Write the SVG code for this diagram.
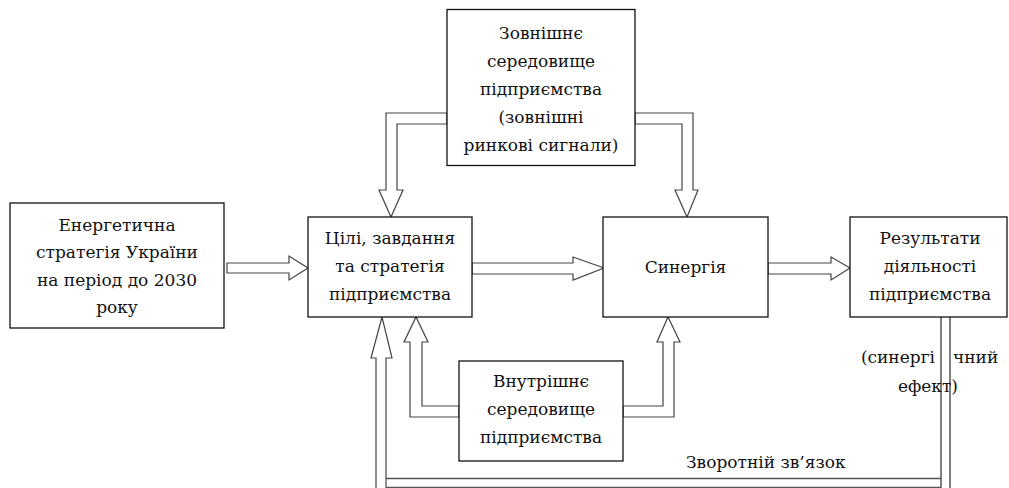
<svg xmlns="http://www.w3.org/2000/svg" width="1009" height="488" viewBox="0 0 1009 488">
<style>
.box{fill:#fff;stroke:#111;stroke-width:1.3}
.arr{fill:#fff;stroke:#444;stroke-width:1.2;stroke-linejoin:miter}
.ln{fill:none;stroke:#555;stroke-width:1.5}
text{font-family:"DejaVu Serif","Liberation Serif",serif;font-size:17px;fill:#111}
.c{text-anchor:middle}
.e{text-anchor:end}
</style>
<rect width="1009" height="488" fill="#fff"/>
<g id="connectors">
<polygon class="arr" points="227,263 289,263 289,256 308,268 289,280 289,273 227,273"/>
<polygon class="arr" points="472,263 573,263 573,257 604,268 573,280 573,274 472,274"/>
<polygon class="arr" points="768,263 831,263 831,257 850,268 831,280 831,274 768,274"/>
<polygon class="arr" points="447,113 386,113 386,190 379,190 391,217 403,190 397,190 397,124 447,124"/>
<polygon class="arr" points="635,113 693,113 693,190 698,190 687,217 675,190 682,190 682,124 635,124"/>
<polygon class="arr" points="459,406 422,406 422,342 428,342 416,317 404,342 410,342 410,417 459,417"/>
<polygon class="arr" points="623,406 663,406 663,342 657,342 668,317 680,342 674,342 674,417 623,417"/>
<polygon class="arr" points="376,492 376,358 371,358 382,317 392,358 386,358 386,492"/>
<line class="ln" x1="386" y1="478.5" x2="941" y2="478.5"/>
<line class="ln" x1="386" y1="487.5" x2="941" y2="487.5"/>
<line class="ln" x1="941" y1="317" x2="941" y2="490"/>
<line class="ln" x1="950" y1="317" x2="950" y2="490"/>
</g>
<g id="node-external">
<rect class="box" x="447" y="9.5" width="188" height="156"/>
<text class="c" x="541" y="39">Зовнішнє</text>
<text class="c" x="541" y="67">середовище</text>
<text class="c" x="541" y="95">підприємства</text>
<text class="c" x="541" y="123">(зовнішні</text>
<text class="c" x="541" y="151">ринкові сигнали)</text>
</g>
<g id="node-strategy">
<rect class="box" x="10" y="203" width="214" height="125"/>
<text class="c" x="117" y="231">Енергетична</text>
<text class="c" x="117" y="258">стратегія України</text>
<text class="c" x="117" y="286">на період до 2030</text>
<text class="c" x="117" y="313">року</text>
</g>
<g id="node-goals">
<rect class="box" x="308" y="217" width="164" height="100"/>
<text class="c" x="390" y="244">Цілі, завдання</text>
<text class="c" x="390" y="272">та стратегія</text>
<text class="c" x="390" y="300">підприємства</text>
</g>
<g id="node-synergy">
<rect class="box" x="603" y="217" width="165" height="100"/>
<text class="c" x="685.5" y="273">Синергія</text>
</g>
<g id="node-results">
<rect class="box" x="850" y="217" width="157" height="100"/>
<text class="c" x="930" y="244">Результати</text>
<text class="c" x="930" y="272">діяльності</text>
<text class="c" x="930" y="300">підприємства</text>
</g>
<g id="node-internal">
<rect class="box" x="459" y="361" width="164" height="100"/>
<text class="c" x="541" y="387">Внутрішнє</text>
<text class="c" x="541" y="415">середовище</text>
<text class="c" x="541" y="443">підприємства</text>
</g>
<g id="labels">
<text class="e" x="935" y="363">(синергі</text>
<text x="953" y="363">чний</text>
<text class="e" x="958" y="392">ефект)</text>
<text x="686" y="468">Зворотній зв’язок</text>
</g>
</svg>
